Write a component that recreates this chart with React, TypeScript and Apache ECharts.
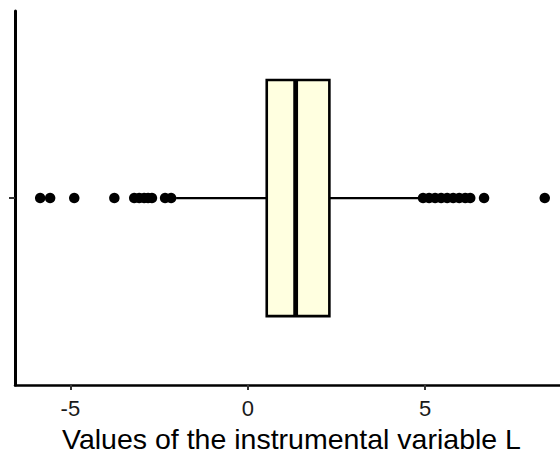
import React, { useEffect, useRef } from "react";
import * as echarts from "echarts";

const categories = ["L"];
// [low whisker, Q1, median, Q3, high whisker]
const boxStats = [-2.02, 0.535, 1.35, 2.3, 4.85];
const lowOutliers = [-5.85, -5.57, -4.89, -3.76, -3.2, -3.06, -2.92, -2.81, -2.7, -2.33, -2.16];
const highOutliers = [4.94, 5.11, 5.28, 5.45, 5.62, 5.79, 5.96, 6.13, 6.27, 6.66, 8.37];
const xTicks = [-5, 0, 5];
const xTitle = "Values of the instrumental variable L";

const FONT = "'Liberation Sans', Arial, Helvetica, sans-serif";

export default function App() {
  const ref = useRef<HTMLDivElement>(null);
  useEffect(() => {
    if (!ref.current) return;
    const chart = echarts.init(ref.current, null, { renderer: "svg" });
    const outliers = [...lowOutliers, ...highOutliers].map((v) => [v, 0]);
    chart.setOption({
      animation: false,
      backgroundColor: "#ffffff",
      grid: { left: 15, right: 0, top: 11, bottom: 65, containLabel: false },
      xAxis: {
        type: "value",
        min: -6.56,
        max: 8.8,
        splitLine: { show: false },
        axisLine: { show: true, onZero: false, lineStyle: { color: "#000", width: 2.5 } },
        axisTick: { show: true, customValues: xTicks, length: 5, lineStyle: { color: "#333", width: 2 } },
        axisLabel: {
          customValues: xTicks,
          color: "#1a1a1a",
          fontSize: 22,
          fontFamily: FONT,
          margin: 12,
        },
        name: xTitle,
        nameLocation: "middle",
        nameGap: 35,
        nameTextStyle: { color: "#000", fontSize: 28.5, fontFamily: FONT, padding: [0, 0, 0, 8] },
      },
      yAxis: {
        type: "category",
        data: categories,
        axisLine: { show: true, onZero: false, lineStyle: { color: "#000", width: 3 } },
        axisTick: { show: true, length: 6, alignWithLabel: true, lineStyle: { color: "#333", width: 2 } },
        axisLabel: { show: false },
        splitLine: { show: false },
      },
      series: [
        {
          type: "custom",
          z: 2,
          data: [[0, ...boxStats]],
          renderItem: (params: any, api: any) => {
            const cat = api.value(0);
            const low = api.coord([api.value(1), cat]);
            const q1 = api.coord([api.value(2), cat]);
            const med = api.coord([api.value(3), cat]);
            const q3 = api.coord([api.value(4), cat]);
            const high = api.coord([api.value(5), cat]);
            const band = api.size([0, 1])[1];
            const half = (band * 0.631) / 2;
            const cy = q1[1];
            return {
              type: "group",
              children: [
                {
                  type: "line",
                  shape: { x1: low[0], y1: cy, x2: q1[0], y2: cy },
                  style: { stroke: "#000", lineWidth: 2.2 },
                },
                {
                  type: "line",
                  shape: { x1: q3[0], y1: cy, x2: high[0], y2: cy },
                  style: { stroke: "#000", lineWidth: 2.2 },
                },
                {
                  type: "rect",
                  shape: { x: q1[0], y: cy - half, width: q3[0] - q1[0], height: 2 * half },
                  style: { fill: "#FFFFE0", stroke: "#000", lineWidth: 2.6 },
                },
                {
                  type: "line",
                  shape: { x1: med[0], y1: cy - half, x2: med[0], y2: cy + half },
                  style: { stroke: "#000", lineWidth: 4.8 },
                },
              ],
            };
          },
        },
        {
          type: "scatter",
          z: 3,
          symbol: "circle",
          symbolSize: 10.5,
          itemStyle: { color: "#000", opacity: 1 },
          data: outliers,
        },
      ],
    });
    return () => chart.dispose();
  }, []);
  return (
    <div
      ref={ref}
      style={{ position: "absolute", left: 0, top: 0, width: 560, height: 458 }}
    />
  );
}
